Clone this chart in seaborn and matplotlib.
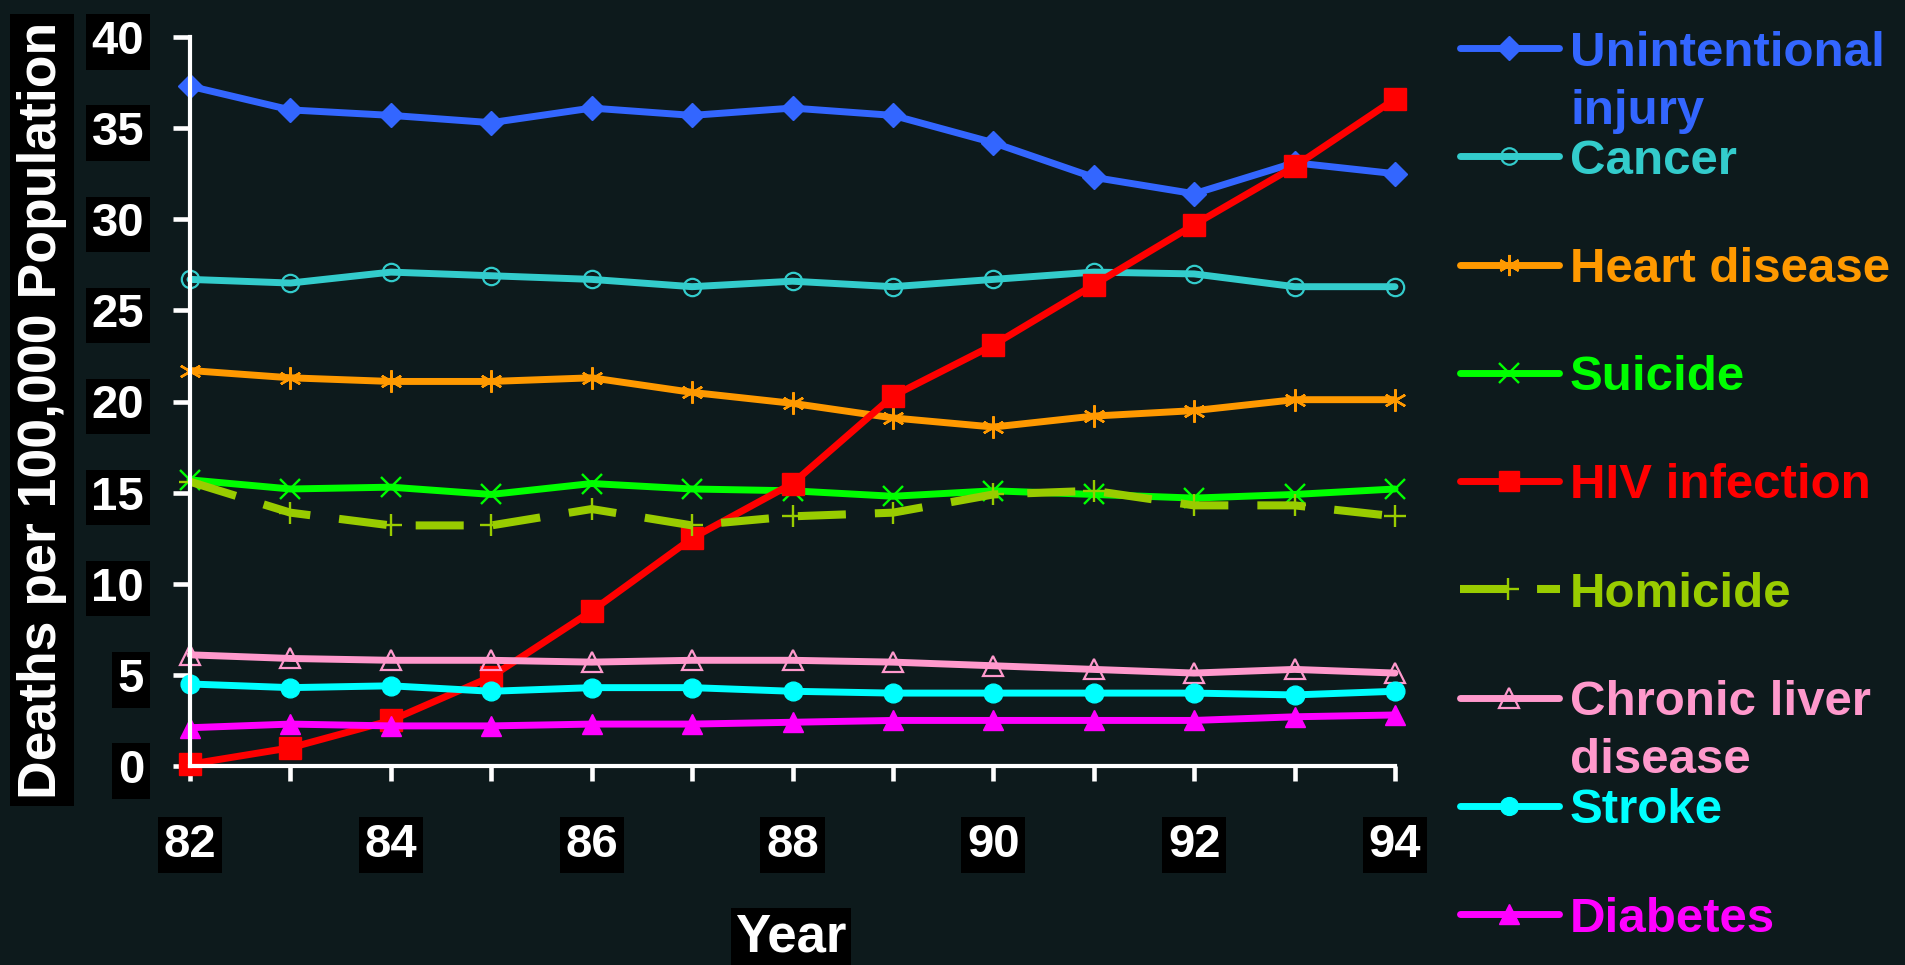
import matplotlib
matplotlib.use("Agg")
import matplotlib.pyplot as plt
import seaborn as sns
import pandas as pd
from matplotlib.lines import Line2D

# ---------------- data ----------------
years = [82, 83, 84, 85, 86, 87, 88, 89, 90, 91, 92, 93, 94]
unintentional_injury = [37.3, 36.0, 35.7, 35.3, 36.1, 35.7, 36.1, 35.7, 34.2, 32.3, 31.4, 33.1, 32.5]
cancer = [26.7, 26.5, 27.1, 26.9, 26.7, 26.3, 26.6, 26.3, 26.7, 27.1, 27.0, 26.3, 26.3]
heart_disease = [21.7, 21.3, 21.1, 21.1, 21.3, 20.5, 19.9, 19.1, 18.6, 19.2, 19.5, 20.1, 20.1]
suicide = [15.7, 15.2, 15.3, 14.9, 15.5, 15.2, 15.1, 14.8, 15.1, 14.9, 14.7, 14.9, 15.2]
hiv_infection = [0.1, 1.0, 2.5, 4.9, 8.5, 12.5, 15.5, 20.3, 23.1, 26.4, 29.7, 32.9, 36.6]
homicide = [15.6, 13.9, 13.2, 13.2, 14.1, 13.2, 13.7, 13.9, 14.9, 15.1, 14.3, 14.3, 13.7]
chronic_liver_disease = [6.1, 5.9, 5.8, 5.8, 5.7, 5.8, 5.8, 5.7, 5.5, 5.3, 5.1, 5.3, 5.1]
stroke = [4.5, 4.3, 4.4, 4.1, 4.3, 4.3, 4.1, 4.0, 4.0, 4.0, 4.0, 3.9, 4.1]
diabetes = [2.1, 2.3, 2.2, 2.2, 2.3, 2.3, 2.4, 2.5, 2.5, 2.5, 2.5, 2.7, 2.8]

series_names = ["Unintentional\ninjury", "Cancer", "Heart disease", "Suicide",
                "HIV infection", "Homicide", "Chronic liver\ndisease", "Stroke", "Diabetes"]
series_values = [unintentional_injury, cancer, heart_disease, suicide, hiv_infection,
                 homicide, chronic_liver_disease, stroke, diabetes]
y_ticks = [0, 5, 10, 15, 20, 25, 30, 35, 40]
x_tick_labels = ["82", "", "84", "", "86", "", "88", "", "90", "", "92", "", "94"]

# ---------------- styles ----------------
BG = "#0d1a1c"
LW = 5.0
styles = [
    dict(color="#3366ff", marker="D", ms=12.5, mfc="#3366ff", mew=1.0, lw=LW),
    dict(color="#33cccc", marker="o", ms=12.5, mfc="none", mew=1.6, lw=LW),
    dict(color="#ff9900", marker=(6, 2, 0), ms=16, mfc="none", mew=1.7, lw=LW),
    dict(color="#00ff00", marker="x", ms=15, mfc="none", mew=1.7, lw=LW),
    dict(color="#ff0000", marker="s", ms=15.5, mfc="#ff0000", mew=1.0, lw=LW),
    dict(color="#99cc00", marker="+", ms=16.5, mfc="none", mew=1.7, lw=5.8,
         dashes=(48 / 8.05, 29 / 8.05)),
    dict(color="#ff99cc", marker="^", ms=15, mfc="none", mew=1.6, lw=LW),
    dict(color="#00ffff", marker="o", ms=13.5, mfc="#00ffff", mew=1.0, lw=LW),
    dict(color="#ff00ff", marker="^", ms=15, mfc="#ff00ff", mew=1.0, lw=LW),
]

sns.set_theme(style="white")
plt.rcParams["font.family"] = ["Liberation Sans", "DejaVu Sans"]
plt.rcParams["font.weight"] = "bold"

W, H = 1905, 965
fig = plt.figure(figsize=(W / 100, H / 100), dpi=100, facecolor=BG)
ax = fig.add_axes([190 / W, 1 - 766 / H, 1205 / W, 729 / H])
ax.set_facecolor(BG)

for name, vals, st in zip(series_names, series_values, styles):
    df = pd.DataFrame({"Year": years, "Value": vals})
    n_before = len(ax.lines)
    sns.lineplot(data=df, x="Year", y="Value", ax=ax, legend=False,
                 color=st["color"], marker=st["marker"], clip_on=False)
    for ln in ax.lines[n_before:]:
        ln.set_linewidth(st["lw"])
        ln.set_markersize(st["ms"])
        ln.set_markerfacecolor(st["mfc"])
        ln.set_markeredgecolor(st["color"])
        ln.set_markeredgewidth(st["mew"])
        ln.set_solid_capstyle("round")
        ln.set_solid_joinstyle("round")
        if "dashes" in st:
            ln.set_dashes(st["dashes"])
            ln.set_dash_capstyle("butt")
        else:
            ln.set_linestyle("-")

ax.set_xlim(82, 94)
ax.set_ylim(0, 40)

for s in ["top", "right"]:
    ax.spines[s].set_visible(False)
for s in ["left", "bottom"]:
    ax.spines[s].set_color("white")
    ax.spines[s].set_linewidth(3)

ax.set_yticks(y_ticks)
ax.set_yticklabels([str(t) for t in y_ticks])
ax.set_xticks(years)
ax.set_xticklabels(x_tick_labels)
ax.tick_params(axis="y", direction="out", length=12, width=3.3, color="white",
               labelcolor="white", labelsize=34, pad=21, left=True)
ax.tick_params(axis="x", direction="out", length=11, width=3.3, color="white",
               labelcolor="white", labelsize=34, pad=30, bottom=True)
for lab in ax.get_yticklabels() + ax.get_xticklabels():
    lab.set_fontweight("bold")
    lab.set_bbox(dict(facecolor="black", edgecolor="none", pad=4))

ax.set_ylabel("Deaths per 100,000 Population", color="white", fontsize=38.5,
              fontweight="bold", bbox=dict(facecolor="black", edgecolor="none", pad=5))
ax.yaxis.set_label_coords((42 - 190) / 1205, (766 - 410) / 729)
ax.yaxis.label.set_va("center")
ax.set_xlabel("Year", color="white", fontsize=38, fontweight="bold",
              bbox=dict(facecolor="black", edgecolor="none", pad=3))
ax.xaxis.set_label_coords((791 - 190) / 1205, (766 - 937) / 729)
ax.xaxis.label.set_va("center")

# ---------------- legend (manual, figure pixel coords) ----------------
row0, drow = 48, 108.25
for i, (name, st) in enumerate(zip(series_names, styles)):
    yp = row0 + i * drow
    yf = 1 - yp / H
    kw = dict(color=st["color"], marker=st["marker"], markersize=st["ms"] * 0.95,
              markerfacecolor=st["mfc"], markeredgecolor=st["color"],
              markeredgewidth=st["mew"], linewidth=st["lw"], markevery=[1],
              solid_capstyle="round", transform=fig.transFigure)
    if "dashes" in st:
        kw["dashes"] = st["dashes"]
        kw["dash_capstyle"] = "butt"
        xs = [1460 / W, 1508 / W, 1560 / W]
    else:
        xs = [1460 / W, 1509 / W, 1559 / W]
    fig.add_artist(Line2D(xs, [yf, yf, yf], **kw))
    for j, line in enumerate(name.split("\n")):
        fig.text(1570 / W, 1 - (yp + 17.5 + j * 58) / H, line, color=st["color"],
                 fontsize=35.5, fontweight="bold", ha="left", va="baseline")

fig.savefig("out.png", dpi=100, facecolor=BG)
